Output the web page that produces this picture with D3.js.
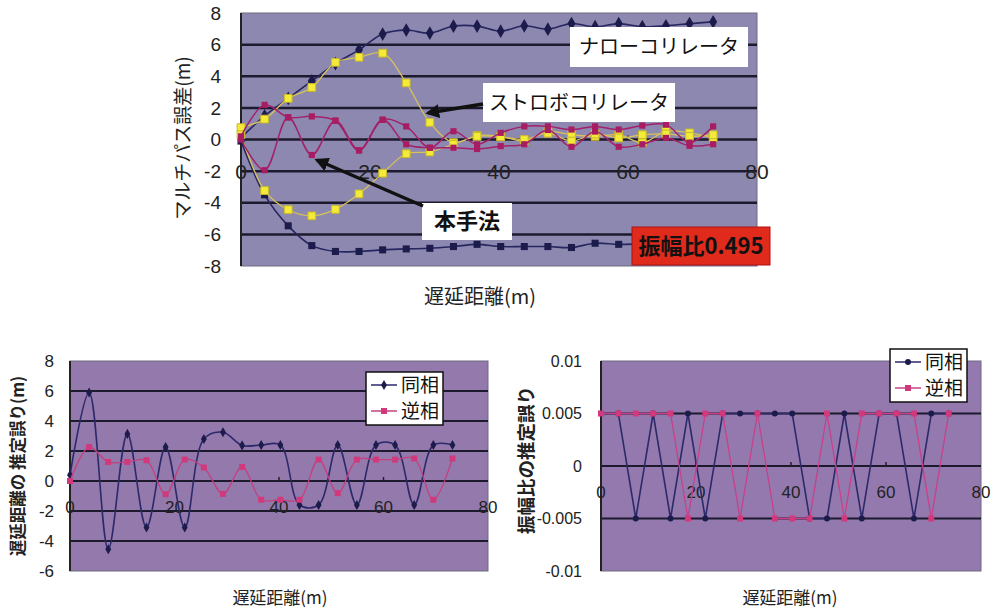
<!DOCTYPE html>
<html>
<head>
<meta charset="utf-8">
<script src="https://cdn.jsdelivr.net/npm/d3@7"></script>
<style>
  body { margin: 0; background: #fff; }
  svg { display: block; font-family: "Liberation Sans", Arial, sans-serif; }
  .jp { font-family: "Noto Sans CJK JP", sans-serif; }
</style>
</head>
<body>
<svg id="chart" width="993" height="613"></svg>
<script>
(function () {
    'use strict';

    // delay distance (m), one step = 1/80 chip
    const delay = [0, 3.66, 7.32, 10.98, 14.64, 18.3, 21.96, 25.62, 29.28, 32.94, 36.6,
        40.26, 43.92, 47.58, 51.24, 54.9, 58.56, 62.22, 65.88, 69.54, 73.2];
    const xTicks = [0, 20, 40, 60, 80];

    // top chart: multipath error (m)
    const narrowPos = [0.1, 1.5, 2.6, 3.7, 4.8, 5.67, 6.67, 6.92, 6.73, 7.17, 7.17,
        6.85, 7.19, 6.98, 7.33, 7.13, 7.33, 7.13, 7.19, 7.33, 7.44];
    const narrowNeg = [-0.1, -3.5, -5.46, -6.71, -7.08, -7.08, -6.98, -6.92, -6.88, -6.77, -6.63,
        -6.77, -6.77, -6.77, -6.83, -6.56, -6.63, -6.6, -6.6, -6.55, -6.5];
    const strobePos = [0.75, 1.29, 2.6, 3.29, 4.88, 5.2, 5.46, 3.58, 1.08, -0.2, 0.25,
        0.2, -0.1, 0.5, 0.3, 0.2, 0.3, -0.2, 0.52, 0.42, 0.1];
    const strobeNeg = [0.3, -3.23, -4.44, -4.83, -4.42, -3.44, -2.13, -0.9, -0.79, -0.3, 0.2,
        0.17, 0.0, 0.4, -0.1, 0.35, 0.1, 0.3, 0.35, 0.2, 0.3];
    const proposedA = [0.2, 2.19, 1.4, 1.46, 1.19, -0.69, 1.25, 0.83, -0.52, 0.52, -0.31,
        0.42, 0.83, 0.83, 0.63, 0.83, 0.63, 0.88, 0.94, -0.2, 0.83];
    const proposedB = [0, -1.94, 1.4, -0.98, 1.19, -0.69, 1.25, -0.3, -0.52, -0.52, -0.6,
        -0.42, -0.3, 0.6, -0.46, 0.5, -0.46, -0.3, 0.1, -0.4, -0.3];
    const topTicks = [8, 6, 4, 2, 0, -2, -4, -6, -8];

    // bottom left: delay estimation error (m)
    const delayInPhase = [0.4, 5.9, -4.55, 3.14, -3.1, 2.26, -3.1, 2.8, 3.25, 2.37, 2.4,
        2.4, -1.6, -1.6, 2.4, -1.6, 2.4, 2.4, -1.6, 2.4, 2.4];
    const delayAntiPhase = [0, 2.26, 1.27, 1.27, 1.38, -0.88, 1.43, 0.9, -0.86, 0.94, -1.25,
        -1.25, -1.25, 1.43, -0.81, 1.43, 1.43, 1.43, 1.5, -1.25, 1.5];
    const delayTicks = [8, 6, 4, 2, 0, -2, -4, -6];

    // bottom right: amplitude ratio estimation error
    const ampInPhase = [0.005, 0.005, -0.005, 0.005, -0.005, 0.005, -0.005, 0.005, 0.005, 0.005, 0.005,
        0.005, -0.005, -0.005, 0.005, -0.005, 0.005, 0.005, -0.005, 0.005, 0.005];
    const ampAntiPhase = [0.005, 0.005, 0.005, 0.005, 0.005, -0.005, 0.005, 0.005, -0.005, 0.005, -0.005,
        -0.005, -0.005, 0.005, -0.005, 0.005, 0.005, 0.005, 0.005, -0.005, 0.005];
    const ampTicks = [0.01, 0.005, 0, -0.005, -0.01];

    const legendNames = ["同相", "逆相"];

    const svg = d3.select("#chart");
    const defs = svg.append("defs");
    defs.append("marker")
        .attr("id", "arrowHead")
        .attr("viewBox", "0 0 10 10")
        .attr("refX", 8).attr("refY", 5)
        .attr("markerWidth", 4).attr("markerHeight", 4)
        .attr("orient", "auto")
        .append("path")
        .attr("d", "M0,0 L10,5 L0,10 Z")
        .attr("fill", "#111");

    function panel(o) {
        const x = d3.scaleLinear().domain([0, 80]).range([o.left, o.right]);
        const y = d3.scaleLinear().domain(o.yDomain).range([o.bottom, o.top]);
        const g = svg.append("g");

        g.append("rect")
            .attr("x", o.left).attr("y", o.top)
            .attr("width", o.right - o.left).attr("height", o.bottom - o.top)
            .attr("fill", o.bg)
            .attr("stroke", "#6e6a80").attr("stroke-width", 1);

        g.selectAll("line.grid")
            .data(o.yTicks.filter(t => t !== o.yDomain[0] && t !== o.yDomain[1]))
            .enter().append("line")
            .attr("class", "grid")
            .attr("x1", o.left).attr("x2", o.right)
            .attr("y1", d => y(d)).attr("y2", d => y(d))
            .attr("stroke", "#1c1a2c").attr("stroke-width", o.gridWidth);

        // left axis line
        g.append("line")
            .attr("x1", o.left).attr("x2", o.left)
            .attr("y1", o.top).attr("y2", o.bottom)
            .attr("stroke", "#222").attr("stroke-width", 2);

        // small ticks on the zero axis
        g.selectAll("line.xt")
            .data(xTicks.slice(1, -1))
            .enter().append("line")
            .attr("x1", d => x(d)).attr("x2", d => x(d))
            .attr("y1", y(0) - 4).attr("y2", y(0))
            .attr("stroke", "#222").attr("stroke-width", 1.5);

        g.selectAll("text.xl")
            .data(xTicks)
            .enter().append("text")
            .attr("x", d => x(d))
            .attr("y", y(0) + o.xLabelOffset)
            .attr("dy", "0.35em")
            .attr("text-anchor", "middle")
            .attr("font-size", o.xFont)
            .attr("fill", "#222")
            .text(d => d);

        g.selectAll("text.yl")
            .data(o.yTicks)
            .enter().append("text")
            .attr("x", o.yLabelX)
            .attr("y", d => y(d))
            .attr("dy", "0.35em")
            .attr("text-anchor", "end")
            .attr("font-size", o.yFont)
            .attr("fill", "#222")
            .text(o.yFormat);

        o.series.forEach(s => {
            const line = d3.line()
                .x((d, i) => x(delay[i]))
                .y(d => y(d))
                .curve(o.smooth ? d3.curveCatmullRom.alpha(0.5) : d3.curveLinear);
            g.append("path")
                .datum(s.values)
                .attr("d", line)
                .attr("fill", "none")
                .attr("stroke", s.color)
                .attr("stroke-width", s.width);
            g.selectAll(null)
                .data(s.values)
                .enter().append("path")
                .attr("transform", (d, i) => `translate(${x(delay[i])},${y(d)})`)
                .attr("d", d3.symbol().type(s.shape).size(s.size))
                .attr("fill", s.fill)
                .attr("stroke", s.stroke || "none")
                .attr("stroke-width", 1);
        });

        svg.append("text")
            .attr("class", "jp")
            .attr("x", o.xTitle[0]).attr("y", o.xTitle[1])
            .attr("text-anchor", "middle")
            .attr("font-size", o.xTitleFont)
            .attr("fill", "#222")
            .text(o.xTitleText);

        svg.append("text")
            .attr("class", "jp")
            .attr("transform", `translate(${o.yTitle[0]},${o.yTitle[1]}) rotate(-90)`)
            .attr("text-anchor", "middle")
            .attr("dy", "0.35em")
            .attr("font-size", o.yTitleFont)
            .attr("font-weight", o.yTitleBold ? "bold" : "normal")
            .attr("fill", "#222")
            .text(o.yTitleText);

        if (o.legend) {
            const lg = svg.append("g").attr("transform", `translate(${o.legend[0]},${o.legend[1]})`);
            lg.append("rect")
                .attr("width", 77).attr("height", 53)
                .attr("fill", "#fff").attr("stroke", "#111").attr("stroke-width", 1.5);
            o.series.forEach((s, k) => {
                const cy = 13 + k * 26;
                lg.append("line")
                    .attr("x1", 5).attr("x2", 31).attr("y1", cy).attr("y2", cy)
                    .attr("stroke", s.color).attr("stroke-width", 1.5);
                lg.append("path")
                    .attr("transform", `translate(18,${cy})`)
                    .attr("d", d3.symbol().type(s.shape).size(s.size))
                    .attr("fill", s.fill);
                lg.append("text")
                    .attr("class", "jp")
                    .attr("x", 35).attr("y", cy)
                    .attr("dy", "0.36em")
                    .attr("font-size", 19)
                    .attr("fill", "#111")
                    .text(legendNames[k]);
            });
        }
        return { x, y };
    }

    // ---- top chart
    panel({
        left: 241, right: 757, top: 13, bottom: 266,
        yDomain: [-8, 8], yTicks: topTicks, yFormat: d => d,
        bg: "#8d88b0", gridWidth: 2.5,
        xLabelOffset: 32, xFont: 21, yLabelX: 221, yFont: 19,
        smooth: true,
        series: [
            { values: narrowPos, color: "#262660", width: 1.6, shape: d3.symbolDiamond, size: 55, fill: "#1c1c4c" },
            { values: narrowNeg, color: "#262660", width: 1.6, shape: d3.symbolSquare, size: 50, fill: "#1c1c4c" },
            { values: strobePos, color: "#d6c25a", width: 1.3, shape: d3.symbolSquare, size: 60, fill: "#f3ea3a", stroke: "#c9b82a" },
            { values: strobeNeg, color: "#d6c25a", width: 1.3, shape: d3.symbolSquare, size: 60, fill: "#f3ea3a", stroke: "#c9b82a" },
            { values: proposedA, color: "#a3206a", width: 1.5, shape: d3.symbolSquare, size: 38, fill: "#a81c62" },
            { values: proposedB, color: "#a3206a", width: 1.5, shape: d3.symbolSquare, size: 38, fill: "#a81c62" }
        ],
        xTitle: [480, 304], xTitleFont: 20, xTitleText: "遅延距離(m)",
        yTitle: [183, 138], yTitleFont: 19, yTitleText: "マルチパス誤差(m)"
    });

    // labels and arrows on the top chart
    function labelBox(x0, y0, w, h, text, size, bold, fill) {
        svg.append("rect")
            .attr("x", x0).attr("y", y0).attr("width", w).attr("height", h)
            .attr("fill", fill || "#fff")
            .attr("stroke", fill ? "#b01010" : "none");
        svg.append("text")
            .attr("class", "jp")
            .attr("x", x0 + w / 2).attr("y", y0 + h / 2)
            .attr("dy", "0.36em")
            .attr("text-anchor", "middle")
            .attr("font-size", size)
            .attr("font-weight", bold ? "bold" : "normal")
            .attr("fill", "#111")
            .text(text);
    }
    labelBox(570, 27, 178, 40, "ナローコリレータ", 20, false);
    labelBox(483, 83, 192, 39, "ストロボコリレータ", 20, false);
    labelBox(422, 203, 90, 37, "本手法", 22, true);
    labelBox(632, 227, 138, 38, "振幅比0.495", 22, true, "#e02a1c");

    svg.append("line")
        .attr("x1", 483).attr("y1", 104).attr("x2", 428).attr("y2", 113)
        .attr("stroke", "#111").attr("stroke-width", 3.5)
        .attr("marker-end", "url(#arrowHead)");
    svg.append("line")
        .attr("x1", 423).attr("y1", 206).attr("x2", 317).attr("y2", 160)
        .attr("stroke", "#111").attr("stroke-width", 3.5)
        .attr("marker-end", "url(#arrowHead)");

    // ---- bottom left
    panel({
        left: 70, right: 488, top: 361, bottom: 571,
        yDomain: [-6, 8], yTicks: delayTicks, yFormat: d => d,
        bg: "#9479ad", gridWidth: 2.2,
        xLabelOffset: 26, xFont: 17, yLabelX: 54, yFont: 17,
        smooth: true,
        series: [
            { values: delayInPhase, color: "#2c2a6a", width: 1.6, shape: d3.symbolDiamond, size: 30, fill: "#1c1c4c" },
            { values: delayAntiPhase, color: "#c4407e", width: 1.3, shape: d3.symbolSquare, size: 36, fill: "#d03a7c" }
        ],
        xTitle: [280, 604], xTitleFont: 17, xTitleText: "遅延距離(m)",
        yTitle: [18, 466], yTitleFont: 16.5, yTitleBold: true, yTitleText: "遅延距離の 推定誤り(m)",
        legend: [366, 372]
    });

    // ---- bottom right
    panel({
        left: 601, right: 981, top: 361, bottom: 571,
        yDomain: [-0.01, 0.01], yTicks: ampTicks, yFormat: d => d === 0 ? "0" : String(d),
        bg: "#9379ae", gridWidth: 2.2,
        xLabelOffset: 26, xFont: 17, yLabelX: 582, yFont: 16,
        smooth: false,
        series: [
            { values: ampInPhase, color: "#2c2a6a", width: 1.6, shape: d3.symbolCircle, size: 28, fill: "#1c1c4c" },
            { values: ampAntiPhase, color: "#c8408a", width: 1.3, shape: d3.symbolSquare, size: 36, fill: "#d03a7c" }
        ],
        xTitle: [790, 604], xTitleFont: 17, xTitleText: "遅延距離(m)",
        yTitle: [527, 460], yTitleFont: 18.5, yTitleBold: true, yTitleText: "振幅比の推定誤り",
        legend: [890, 349]
    });
})();
</script>
</body>
</html>
